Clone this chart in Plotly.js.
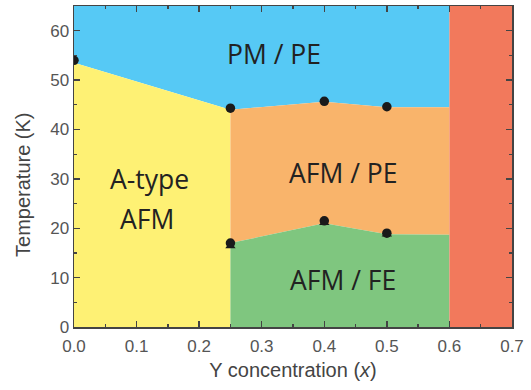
<!DOCTYPE html>
<html>
<head>
<meta charset="utf-8">
<script src="https://cdn.plot.ly/plotly-3.0.1.min.js"></script>
<style>html,body{margin:0;padding:0;background:#fff;}#chart{width:531px;height:390px;}</style>
</head>
<body>
<div id="chart"></div>
<script>
// Phase boundaries (Y concentration x, temperature K)
var upperX = [0, 0.25, 0.4, 0.5, 0.6];
var upperY = [53.5, 44.0, 45.6, 44.5, 44.5];
var lowerX = [0.25, 0.4, 0.5, 0.6];
var lowerY = [17.0, 21.0, 18.8, 18.7];
var xMin = 0, xSplit = 0.25, xEdge = 0.6, xMax = 0.7;
var tMin = 0, tMax = 65;

// Measured transition points
var circleX = [0, 0.25, 0.4, 0.5, 0.25, 0.4, 0.5];
var circleY = [54.0, 44.3, 45.7, 44.6, 17.0, 21.5, 19.0];
var triX = [0.25, 0.4, 0.5];
var triY = [16.4, 21.1, 18.8];

// Phase labels
var labelText = ["PM / PE", "AFM / PE", "AFM / FE", "A-type", "AFM"];
var labelX = [0.32, 0.43, 0.43, 0.12, 0.117];
var labelY = [55.3, 31.2, 9.5, 30.0, 21.8];

var colBlue = "#56C9F5", colYellow = "#FEF174", colOrange = "#F9B46B",
    colGreen = "#7FC67F", colRed = "#F2795C";

function region(xs, ys, color) {
  return {x: xs, y: ys, type: "scatter", mode: "none", fill: "toself",
          fillcolor: color, hoverinfo: "skip", showlegend: false};
}

// Build polygons from the boundary arrays
var blueX = upperX.concat([xEdge, xMin]);
var blueY = upperY.concat([tMax, tMax]);
var yelX = [xMin, upperX[1], xSplit, xMin];
var yelY = [upperY[0], upperY[1], tMin, tMin];
var oraX = upperX.slice(1).concat(lowerX.slice().reverse());
var oraY = upperY.slice(1).concat(lowerY.slice().reverse());
var greX = lowerX.concat([xEdge, xSplit]);
var greY = lowerY.concat([tMin, tMin]);
var redX = [xEdge, xMax, xMax, xEdge];
var redY = [tMin, tMin, tMax, tMax];

var traces = [
  region(blueX, blueY, colBlue),
  region(yelX, yelY, colYellow),
  region(oraX, oraY, colOrange),
  region(greX, greY, colGreen),
  region(redX, redY, colRed),
  {x: triX, y: triY, type: "scatter", mode: "markers", showlegend: false,
   marker: {symbol: "triangle-up", size: 9, color: "#1a1a1a"}},
  {x: circleX, y: circleY, type: "scatter", mode: "markers", showlegend: false,
   marker: {symbol: "circle", size: 9.5, color: "#1a1a1a"}}
];

var annotations = labelText.map(function(t, i) {
  return {x: labelX[i], y: labelY[i], xref: "x", yref: "y", text: t,
          showarrow: false, font: {family: "Open Sans", size: 26.5, color: "#222"}};
});
annotations.push({x: -0.116, y: 0.443, xref: "paper", yref: "paper", text: "Temperature (K)",
  xanchor: "center", yanchor: "middle", textangle: -90, showarrow: false,
  font: {family: "Liberation Sans, Arial", size: 20, color: "#444"}});

var axisCommon = {
  showline: true, linecolor: "#444", linewidth: 1.5, mirror: "ticks",
  ticks: "inside", ticklen: 6, tickwidth: 1.3, tickcolor: "#444",
  showgrid: false, zeroline: false,
  tickfont: {family: "Liberation Sans, Arial", size: 17, color: "#555"}
};

var layout = {
  width: 531, height: 390,
  margin: {l: 74, r: 18.5, t: 6, b: 62.7},
  paper_bgcolor: "#fff", plot_bgcolor: "#fff",
  xaxis: Object.assign({}, axisCommon, {
    range: [xMin, xMax], dtick: 0.1, tick0: 0, tickformat: ".1f",
    ticklabelstandoff: 3,
    minor: {dtick: 0.05, ticks: "inside", ticklen: 3, tickcolor: "#444"},
    title: {text: "Y concentration (<i>x</i>)", standoff: 8,
            font: {family: "Liberation Sans, Arial", size: 20, color: "#444"}}
  }),
  yaxis: Object.assign({}, axisCommon, {
    range: [tMin, tMax], dtick: 10, tick0: 0,
    minor: {dtick: 5, ticks: "inside", ticklen: 3, tickcolor: "#444"}
  }),
  annotations: annotations
};

Plotly.newPlot("chart", traces, layout, {displayModeBar: false, staticPlot: true});
</script>
</body>
</html>
